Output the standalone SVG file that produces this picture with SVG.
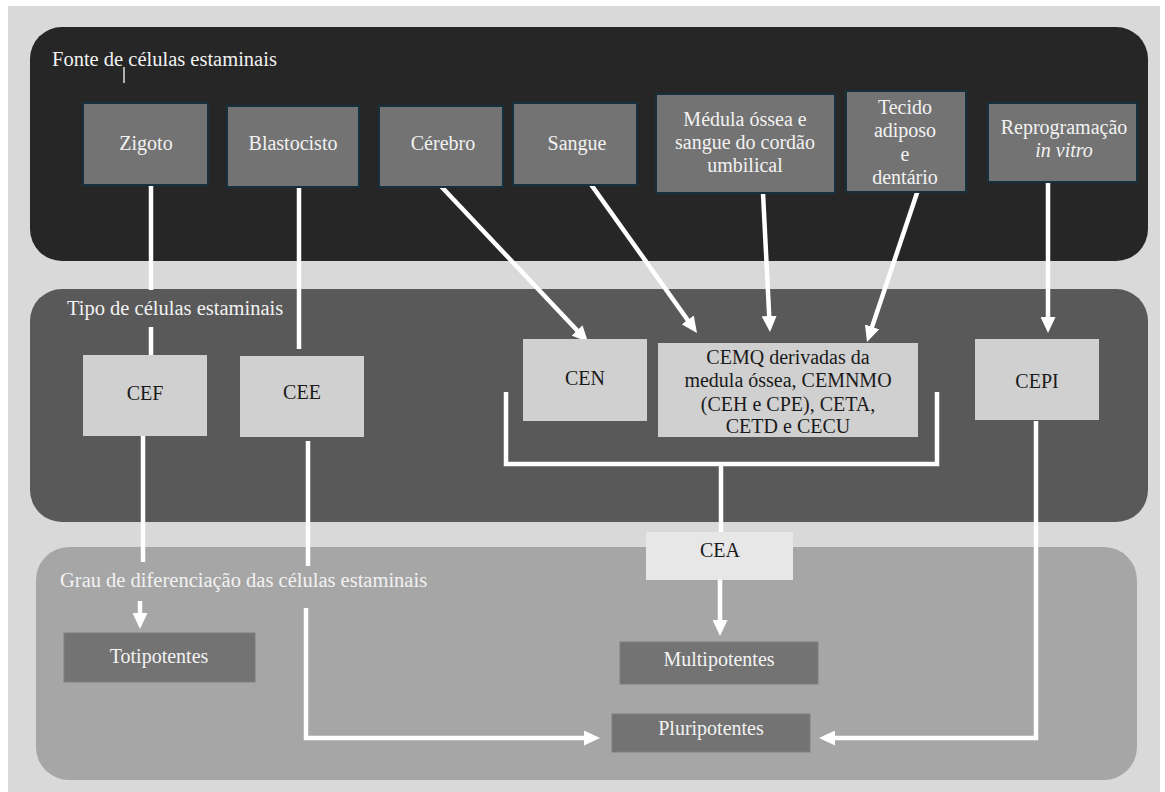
<svg xmlns="http://www.w3.org/2000/svg" width="1165" height="792" viewBox="0 0 1165 792">
  <defs>
    <marker id="ah" markerUnits="userSpaceOnUse" markerWidth="16" markerHeight="15" refX="4" refY="7.5" orient="auto">
      <path d="M0,0 L16,7.5 L0,15 z" fill="#ffffff"/>
    </marker>
  </defs>
  <style>
    .title { font-family: "Liberation Serif", "Times New Roman", serif; font-size: 20.5px; fill: #f2f2f2; }
    .lbl { font-family: "Liberation Serif", "Times New Roman", serif; font-size: 20px; text-anchor: middle; }
    .w { fill: #f2f2f2; }
    .k { fill: #1a1a1a; }
    .src { fill: #737373; stroke: #17303d; stroke-width: 2; }
    .typ { fill: #d0d0d0; }
    .cea { fill: #e7e7e7; }
    .deg { fill: #737373; stroke: #7e7e7e; stroke-width: 1; }
    .c { fill: none; stroke: #ffffff; stroke-width: 4.5; }
    .ca { fill: none; stroke: #ffffff; stroke-width: 4.5; marker-end: url(#ah); }
  </style>

  <rect x="8" y="6" width="1152" height="786" fill="#d9d9d9"/>

  <g id="panel-fonte">
    <rect x="30" y="27" width="1118" height="234" rx="32" ry="32" fill="#262626"/>
    <text class="title" x="52" y="66">Fonte de células estaminais</text>
    <line x1="124" y1="67" x2="124" y2="83" stroke="#e0e0e0" stroke-width="1.5"/>
  </g>
  <g id="panel-tipo">
    <rect x="30" y="289" width="1118" height="233" rx="32" ry="32" fill="#595959"/>
    <text class="title" x="67" y="315">Tipo de células estaminais</text>
  </g>
  <g id="panel-grau">
    <rect x="36" y="547" width="1101" height="233" rx="33" ry="33" fill="#a6a6a6"/>
    <text class="title" x="60" y="587">Grau de diferenciação das células estaminais</text>
  </g>

  <g id="connectors">
    <path class="c" d="M151,185 V290"/>
    <path class="c" d="M151,327 V355"/>
    <path class="c" d="M299,187 V349"/>
    <path class="ca" d="M437,182 L579.8,333.3"/>
    <path class="ca" d="M575,162 L690,323.2"/>
    <path class="ca" d="M763,193 L769.4,320"/>
    <path class="ca" d="M918,190 L870.8,330.6"/>
    <path class="ca" d="M1048,182 V321"/>
    <path class="c" d="M143,436 V562"/>
    <path class="ca" d="M140,601 V617"/>
    <path class="c" d="M308,441 V566"/>
    <path class="ca" d="M306,608 V738 H588"/>
    <path class="ca" d="M1036,421 V738 H831"/>
    <path class="c" d="M506,392 V464 H937 V392"/>
    <path class="c" d="M721,464 V532"/>
    <path class="ca" d="M720,580 V624"/>
  </g>

  <g id="zigoto">
    <rect class="src" x="83" y="103" width="125" height="82"/>
    <text class="lbl w" x="146" y="150">Zigoto</text>
  </g>
  <g id="blastocisto">
    <rect class="src" x="227" y="106" width="132" height="81"/>
    <text class="lbl w" x="293" y="150">Blastocisto</text>
  </g>
  <g id="cerebro">
    <rect class="src" x="379" y="106" width="124" height="81"/>
    <text class="lbl w" x="443" y="150">Cérebro</text>
  </g>
  <g id="sangue">
    <rect class="src" x="513" y="103" width="124" height="82"/>
    <text class="lbl w" x="577" y="150">Sangue</text>
  </g>
  <g id="medula">
    <rect class="src" x="656" y="94" width="179" height="99"/>
    <text class="lbl w" x="745" y="126">Médula óssea e</text>
    <text class="lbl w" x="745" y="149">sangue do cordão</text>
    <text class="lbl w" x="745" y="172">umbilical</text>
  </g>
  <g id="tecido">
    <rect class="src" x="846" y="91" width="120" height="101"/>
    <text class="lbl w" x="905" y="114">Tecido</text>
    <text class="lbl w" x="905" y="137">adiposo</text>
    <text class="lbl w" x="905" y="161">e</text>
    <text class="lbl w" x="905" y="184">dentário</text>
  </g>
  <g id="reprogramacao">
    <rect class="src" x="988" y="103" width="149" height="79"/>
    <text class="lbl w" x="1064" y="134">Reprogramação</text>
    <text class="lbl w" x="1064" y="157" font-style="italic">in vitro</text>
  </g>

  <g id="cef">
    <rect class="typ" x="83" y="355" width="124" height="81"/>
    <text class="lbl k" x="145" y="400">CEF</text>
  </g>
  <g id="cee">
    <rect class="typ" x="240" y="356" width="124" height="81"/>
    <text class="lbl k" x="302" y="399">CEE</text>
  </g>
  <g id="cen">
    <rect class="typ" x="523" y="339" width="124" height="82"/>
    <text class="lbl k" x="585" y="385">CEN</text>
  </g>
  <g id="cemq">
    <rect class="typ" x="658" y="343" width="260" height="94"/>
    <text class="lbl k" x="788" y="364">CEMQ derivadas da</text>
    <text class="lbl k" x="788" y="387">medula óssea, CEMNMO</text>
    <text class="lbl k" x="788" y="411">(CEH e CPE), CETA,</text>
    <text class="lbl k" x="788" y="433">CETD e CECU</text>
  </g>
  <g id="cepi">
    <rect class="typ" x="975" y="339" width="124" height="81"/>
    <text class="lbl k" x="1037" y="388">CEPI</text>
  </g>

  <g id="cea">
    <rect class="cea" x="646" y="532" width="147" height="48"/>
    <text class="lbl k" x="720" y="557">CEA</text>
  </g>
  <g id="totipotentes">
    <rect class="deg" x="64" y="633" width="191" height="49"/>
    <text class="lbl w" x="159" y="663">Totipotentes</text>
  </g>
  <g id="multipotentes">
    <rect class="deg" x="620" y="642" width="198" height="42"/>
    <text class="lbl w" x="719" y="666">Multipotentes</text>
  </g>
  <g id="pluripotentes">
    <rect class="deg" x="612" y="714" width="198" height="38"/>
    <text class="lbl w" x="711" y="735">Pluripotentes</text>
  </g>
</svg>
